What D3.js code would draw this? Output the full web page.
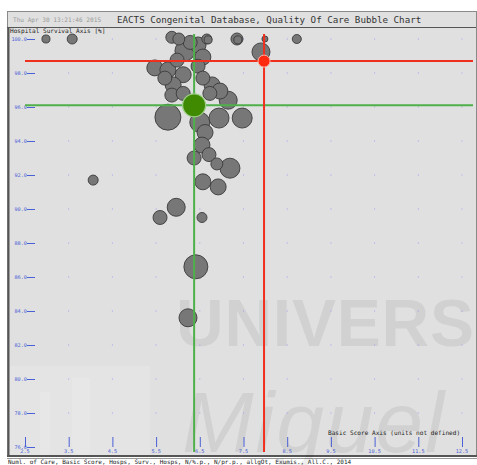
<!DOCTYPE html>
<html>
<head>
<meta charset="utf-8">
<script src="https://cdn.jsdelivr.net/npm/d3@7"></script>
<style>
  body { margin: 0; background: #fff; }
  svg { display: block; }
</style>
</head>
<body>
<svg id="chart"></svg>
<script>
// basic score (x), hospital survival % (y), number of cases (bubble size)
const scores = [2.98, 3.58, 5.86, 6.02, 6.28, 6.46, 6.66, 6.69, 7.35, 7.37, 7.99, 8.72,
  7.90, 6.16, 6.57, 5.47, 5.77, 5.98, 6.12, 6.46, 6.57, 5.70, 5.89, 6.78, 6.96, 5.86,
  6.12, 6.73, 7.15, 5.77, 6.50, 6.94, 7.47, 6.62, 6.55, 6.37, 6.71, 6.89, 7.19, 6.57,
  6.92, 5.96, 5.59, 6.55, 6.41, 6.23, 4.06];
const survival = [100.0, 100.0, 100.1, 100.0, 99.8, 99.65, 100.0, 99.95, 100.0, 99.95, 100.0, 100.0,
  99.24, 99.3, 98.94, 98.3, 98.18, 98.76, 97.9, 98.4, 97.7, 97.7, 97.3, 97.3, 96.94, 96.7,
  96.8, 96.8, 96.4, 95.4, 95.1, 95.35, 95.35, 94.5, 93.76, 93.0, 93.2, 92.65, 92.4, 91.6,
  91.3, 90.1, 89.5, 89.5, 86.6, 83.6, 91.7];
const cases = [41, 64, 92, 92, 125, 163, 64, 41, 92, 41, 23, 52,
  207, 255, 163, 163, 163, 125, 163, 125, 125, 125, 163, 163, 163, 125,
  125, 125, 207, 431, 255, 255, 255, 163, 163, 125, 125, 92, 255, 163,
  163, 207, 125, 64, 367, 207, 64];

// reference points
const average = { score: 6.37, survival: 96.1 };
const target = { score: 7.97, survival: 98.7 };

const xTicks = [2.5, 3.5, 4.5, 5.5, 6.5, 7.5, 8.5, 9.5, 10.5, 11.5, 12.5];
const yTicks = [76, 78, 80, 82, 84, 86, 88, 90, 92, 94, 96, 98, 100];

const width = 477, height = 465;
const frame = { left: 7, top: 11, right: 476, bottom: 456, titleBottom: 27 };
const mono = "'DejaVu Sans Mono', 'Liberation Mono', monospace";

const x = d3.scaleLinear().domain([2.5, 12.5]).range([25, 462]);
const y = d3.scaleLinear().domain([76, 100]).range([447, 39]);
const r = d3.scaleSqrt().domain([0, 500]).range([0, 14]);

const svg = d3.select("#chart").attr("width", width).attr("height", height);

// frame
svg.append("rect")
  .attr("x", frame.left + 0.5).attr("y", frame.top + 0.5)
  .attr("width", frame.right - frame.left).attr("height", frame.bottom - frame.top)
  .attr("fill", "#e0e0e0").attr("stroke", "#8a8a8a");
svg.append("line")
  .attr("x1", frame.left + 1.5).attr("x2", frame.left + 1.5)
  .attr("y1", frame.titleBottom).attr("y2", frame.bottom)
  .attr("stroke", "#555").attr("stroke-width", 2);
svg.append("line")
  .attr("x1", frame.left).attr("x2", frame.right)
  .attr("y1", frame.titleBottom + 0.5).attr("y2", frame.titleBottom + 0.5)
  .attr("stroke", "#555");
svg.append("line")
  .attr("x1", frame.left).attr("x2", frame.right + 1)
  .attr("y1", frame.bottom).attr("y2", frame.bottom)
  .attr("stroke", "#555").attr("stroke-width", 2);
svg.append("line")
  .attr("x1", frame.left).attr("x2", frame.right + 1)
  .attr("y1", frame.bottom + 2.5).attr("y2", frame.bottom + 2.5)
  .attr("stroke", "#999");

// watermark
const wm = svg.append("g")
  .attr("font-family", "'Liberation Sans', Arial, sans-serif")
  .attr("fill", "#000").attr("fill-opacity", 0.065);
wm.append("text").attr("x", 176).attr("y", 346)
  .attr("font-size", 66).attr("font-weight", "bold").attr("textLength", 298)
  .text("UNIVERS");
wm.append("text").attr("x", 182).attr("y", 452)
  .attr("font-size", 86).attr("font-style", "italic").attr("textLength", 262)
  .text("Miguel");
svg.append("g").attr("fill", "#fff").attr("fill-opacity", 0.14)
  .selectAll("rect")
  .data([[10, 366, 140, 89], [72, 378, 18, 77], [40, 392, 10, 63]])
  .join("rect")
  .attr("x", d => d[0]).attr("y", d => d[1]).attr("width", d => d[2]).attr("height", d => d[3]);

// titles
svg.append("text").attr("x", 13).attr("y", 21.5)
  .attr("font-family", mono).attr("font-size", 6.1).attr("fill", "#9a9a9a")
  .text("Thu Apr 30 13:21:46 2015");
svg.append("text").attr("x", 117).attr("y", 22.5)
  .attr("font-family", mono).attr("font-size", 9.2).attr("fill", "#333")
  .text("EACTS Congenital Database, Quality Of Care Bubble Chart");
svg.append("text").attr("x", 10).attr("y", 32.5)
  .attr("font-family", mono).attr("font-size", 6.1).attr("fill", "#222")
  .text("Hospital Survival Axis [%]");
svg.append("text").attr("x", 328).attr("y", 435)
  .attr("font-family", mono).attr("font-size", 6.1).attr("fill", "#222")
  .text("Basic Score Axis (units not defined)");
svg.append("text").attr("x", 8).attr("y", 463.5)
  .attr("font-family", mono).attr("font-size", 6).attr("fill", "#222")
  .text("Numl. of Care, Basic Score, Hosps, Surv., Hosps, N/%.p., N/pr.p., allgOt, Exumis., All.C., 2014");

// grid dots
const grid = [];
xTicks.slice(1).forEach(a => yTicks.slice(1).forEach(b => grid.push([a, b])));
svg.append("g").attr("fill", "#9aa2ee")
  .selectAll("rect").data(grid).join("rect")
  .attr("x", d => x(d[0]) - 0.5).attr("y", d => y(d[1]) - 0.5)
  .attr("width", 1).attr("height", 1);

// y axis
const yAxis = svg.append("g").attr("font-family", mono).attr("font-size", 5.2).attr("fill", "#4b5fd6");
yAxis.selectAll("line").data(yTicks).join("line")
  .attr("x1", 27).attr("x2", 35)
  .attr("y1", d => y(d) + 0.5).attr("y2", d => y(d) + 0.5)
  .attr("stroke", "#4b5fd6");
yAxis.selectAll("text").data(yTicks).join("text")
  .attr("x", 27).attr("y", d => y(d) + 1.8).attr("text-anchor", "end")
  .text(d => d3.format(".1f")(d));

// x axis
const xAxis = svg.append("g").attr("font-family", mono).attr("font-size", 5.2).attr("fill", "#4b5fd6");
xAxis.selectAll("line").data(xTicks).join("line")
  .attr("x1", d => x(d) + 0.5).attr("x2", d => x(d) + 0.5)
  .attr("y1", 437).attr("y2", 447)
  .attr("stroke", "#4b5fd6");
xAxis.selectAll("text").data(xTicks).join("text")
  .attr("x", d => x(d)).attr("y", 453).attr("text-anchor", "middle")
  .text(d => d3.format(".1f")(d));

// bubbles, biggest first so small ones stay visible
const bubbles = scores.map((s, i) => ({ score: s, survival: survival[i], cases: cases[i] }))
  .sort((a, b) => b.cases - a.cases);

svg.append("g")
  .selectAll("circle").data(bubbles).join("circle")
  .attr("cx", d => x(d.score)).attr("cy", d => y(d.survival))
  .attr("r", d => r(d.cases))
  .attr("fill", "#777").attr("stroke", "#3a3a3a").attr("stroke-width", 0.9);

// reference lines
function refLines(p, color) {
  svg.append("line")
    .attr("x1", x(2.5)).attr("x2", 473)
    .attr("y1", y(p.survival)).attr("y2", y(p.survival))
    .attr("stroke", color).attr("stroke-width", 2);
  svg.append("line")
    .attr("x1", x(p.score)).attr("x2", x(p.score))
    .attr("y1", 34).attr("y2", 452)
    .attr("stroke", color).attr("stroke-width", 2);
}
refLines(average, "#4fb04a");
refLines(target, "#f0301e");

svg.append("circle")
  .attr("cx", x(average.score)).attr("cy", y(average.survival)).attr("r", 11.5)
  .attr("fill", "#3f8a00").attr("stroke", "#9ccf86").attr("stroke-width", 1.2);
svg.append("circle")
  .attr("cx", x(target.score)).attr("cy", y(target.survival)).attr("r", 6)
  .attr("fill", "#ff2a10").attr("stroke", "#ffb0a0").attr("stroke-width", 1);
</script>
</body>
</html>
